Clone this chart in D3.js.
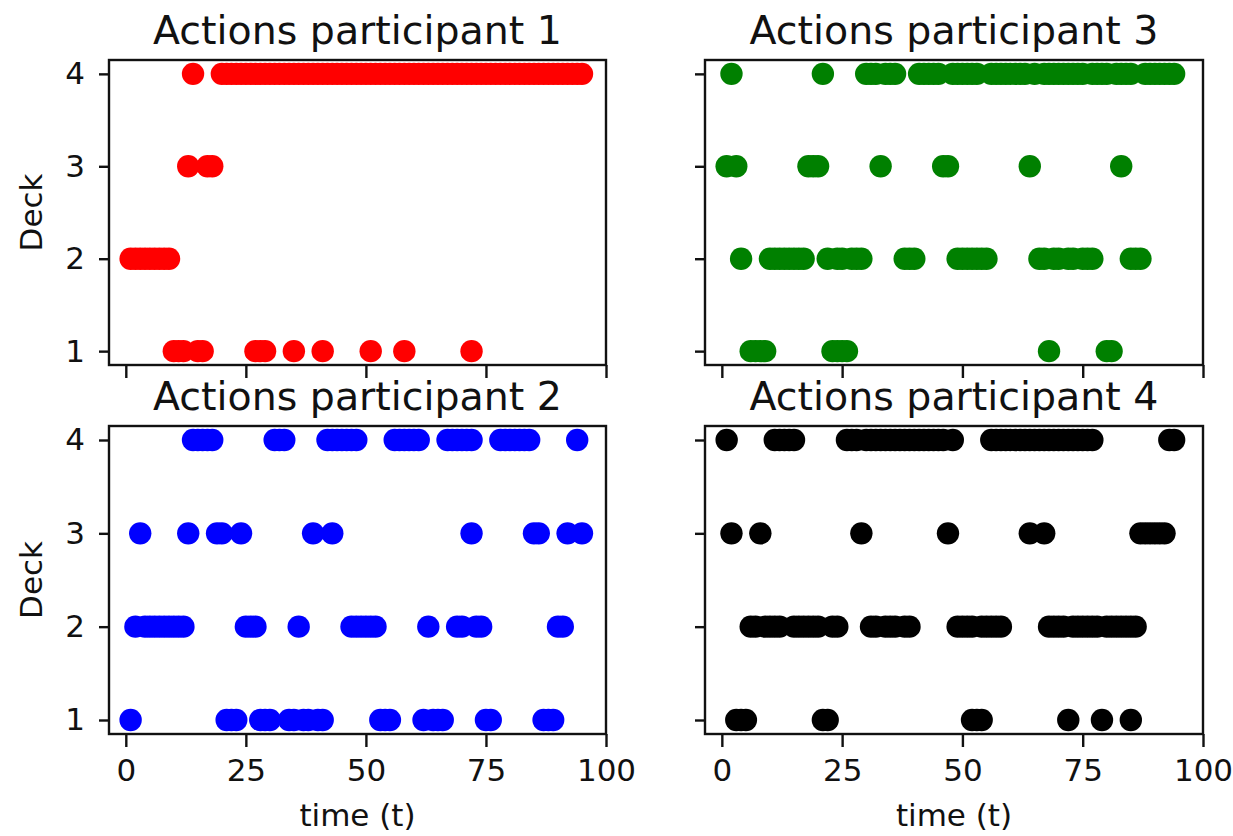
<!DOCTYPE html>
<html>
<head>
<meta charset="utf-8">
<script src="https://cdn.jsdelivr.net/npm/d3@7"></script>
<style>
  html, body { margin: 0; padding: 0; background: #fff; }
  svg { display: block; font-family: "DejaVu Sans", sans-serif; }
</style>
</head>
<body>
<svg id="chart" width="1233" height="836"></svg>
<script>
// Deck chosen at each trial, listed as the trial times for every deck.
const p1Deck1 = [10, 11, 12, 15, 16, 27, 28, 29, 35, 41, 51, 58, 72];
const p1Deck2 = [1, 2, 3, 4, 5, 6, 7, 8, 9];
const p1Deck3 = [13, 17, 18];
const p1Deck4 = [14, 20, 21, 22, 23, 24, 25, 26, 27, 28, 29, 30, 31, 32, 33, 34, 35, 36,
  37, 38, 39, 40, 41, 42, 43, 44, 45, 46, 47, 48, 49, 50, 51, 52, 53, 54, 55, 56, 57,
  58, 59, 60, 61, 62, 63, 64, 65, 66, 67, 68, 69, 70, 71, 72, 73, 74, 75, 76, 77, 78,
  79, 80, 81, 82, 83, 84, 85, 86, 87, 88, 89, 90, 91, 92, 93, 94, 95];

const p2Deck1 = [1, 21, 22, 23, 28, 29, 30, 34, 35, 37, 38, 40, 41, 53, 54, 55, 62, 64, 65, 66, 75, 76, 87, 88, 89];
const p2Deck2 = [2, 4, 5, 6, 7, 8, 9, 10, 11, 12, 25, 26, 27, 36, 47, 48, 49, 50, 51, 52, 63, 69, 70, 73, 74, 90, 91];
const p2Deck3 = [3, 13, 19, 20, 24, 39, 43, 72, 85, 86, 92, 95];
const p2Deck4 = [14, 15, 16, 17, 18, 31, 32, 33, 42, 43, 44, 45, 46, 47, 48, 56, 57, 58,
  59, 60, 61, 67, 68, 69, 70, 71, 72, 78, 79, 80, 81, 82, 83, 84, 94];

const p3Deck1 = [6, 7, 8, 9, 23, 24, 25, 26, 68, 80, 81];
const p3Deck2 = [4, 10, 11, 12, 13, 14, 15, 16, 17, 22, 24, 25, 27, 28, 29, 38, 39, 40,
  49, 50, 51, 52, 53, 54, 55, 66, 67, 69, 70, 72, 73, 75, 76, 77, 85, 86, 87];
const p3Deck3 = [1, 3, 18, 19, 20, 33, 46, 47, 64, 83];
const p3Deck4 = [2, 21, 30, 31, 32, 34, 35, 36, 41, 42, 43, 44, 45, 48, 49, 50, 51, 52,
  53, 56, 57, 58, 59, 60, 61, 62, 63, 65, 67, 68, 69, 70, 71, 72, 73, 74, 75, 77, 78,
  79, 80, 82, 83, 84, 85, 88, 89, 90, 91, 92, 93, 94];

const p4Deck1 = [3, 4, 5, 21, 22, 52, 53, 54, 72, 79, 85];
const p4Deck2 = [6, 7, 9, 10, 11, 12, 15, 16, 17, 18, 19, 20, 23, 24, 31, 32, 34, 35,
  36, 38, 39, 49, 50, 51, 52, 54, 55, 56, 57, 58, 68, 69, 70, 71, 73, 74, 75, 76, 77,
  78, 80, 81, 82, 83, 84, 85, 86];
const p4Deck3 = [2, 8, 29, 47, 64, 67, 87, 88, 89, 90, 91, 92];
const p4Deck4 = [1, 11, 12, 13, 14, 15, 26, 27, 28, 30, 31, 32, 33, 34, 35, 36, 37, 38,
  39, 40, 41, 42, 43, 44, 45, 46, 48, 56, 57, 58, 59, 60, 61, 62, 63, 64, 65, 66, 67,
  68, 69, 70, 71, 72, 73, 74, 75, 76, 77, 93, 94];

const panelTitles = ["Actions participant 1", "Actions participant 2",
                     "Actions participant 3", "Actions participant 4"];
const panelColors = ["#ff0000", "#0000ff", "#008000", "#000000"];
const xTicks = [0, 25, 50, 75, 100];
const yTicks = [1, 2, 3, 4];
const xLabel = "time (t)";
const yLabel = "Deck";

const deckSets = [
  [p1Deck1, p1Deck2, p1Deck3, p1Deck4],
  [p2Deck1, p2Deck2, p2Deck3, p2Deck4],
  [p3Deck1, p3Deck2, p3Deck3, p3Deck4],
  [p4Deck1, p4Deck2, p4Deck3, p4Deck4]
];

// Grid placement: participants 1 and 2 in the left column, 3 and 4 on the right.
const cells = [
  { col: 0, row: 0 }, { col: 0, row: 1 }, { col: 1, row: 0 }, { col: 1, row: 1 }
];
const colX = [[109, 606], [705, 1203]];
const rowY = [[60, 365], [426, 734]];

const svg = d3.select("#chart");
const R = 11.2;
const ink = "#111";

deckSets.forEach((decks, i) => {
  const { col, row } = cells[i];
  const x = d3.scaleLinear().domain([-3.5, 100]).range(colX[col]);
  const y = d3.scaleLinear().domain([0.85, 4.15]).range([rowY[row][1], rowY[row][0]]);
  const g = svg.append("g");

  const pts = [];
  decks.forEach((ts, d) => ts.forEach(t => pts.push({ t, deck: d + 1 })));

  g.append("g").selectAll("circle").data(pts).join("circle")
    .attr("cx", d => x(d.t)).attr("cy", d => y(d.deck))
    .attr("r", R).attr("fill", panelColors[i]);

  const xAxis = d3.axisBottom(x).tickValues(xTicks).tickSize(13).tickPadding(12)
    .tickFormat(row === 1 ? d3.format("d") : () => "");
  const yAxis = d3.axisLeft(y).tickValues(yTicks).tickSize(10).tickPadding(14)
    .tickFormat(col === 0 ? d3.format("d") : () => "");

  const gx = g.append("g").attr("transform", `translate(0,${rowY[row][1]})`).call(xAxis);
  const gy = g.append("g").attr("transform", `translate(${colX[col][0]},0)`).call(yAxis);
  [gx, gy].forEach(a => {
    a.select(".domain").remove();
    a.selectAll(".tick line").attr("stroke", ink).attr("stroke-width", 2.4);
    a.selectAll(".tick text").attr("fill", ink).style("font-size", "31px")
      .style("font-family", "DejaVu Sans");
  });

  // frame around the plotting area
  g.append("rect")
    .attr("x", colX[col][0]).attr("y", rowY[row][0])
    .attr("width", colX[col][1] - colX[col][0]).attr("height", rowY[row][1] - rowY[row][0])
    .attr("fill", "none").attr("stroke", ink).attr("stroke-width", 2.4);

  const cx = (colX[col][0] + colX[col][1]) / 2;
  g.append("text").attr("x", cx).attr("y", rowY[row][0] - 16)
    .attr("text-anchor", "middle").attr("fill", ink)
    .style("font-size", "39.5px").text(panelTitles[i]);

  if (row === 1) {
    g.append("text").attr("x", cx).attr("y", 826)
      .attr("text-anchor", "middle").attr("fill", ink)
      .style("font-size", "31px").text(xLabel);
  }
  if (col === 0) {
    const cy = (rowY[row][0] + rowY[row][1]) / 2;
    g.append("text").attr("transform", `translate(42,${cy}) rotate(-90)`)
      .attr("text-anchor", "middle").attr("fill", ink)
      .style("font-size", "31px").text(yLabel);
  }
});
</script>
</body>
</html>
